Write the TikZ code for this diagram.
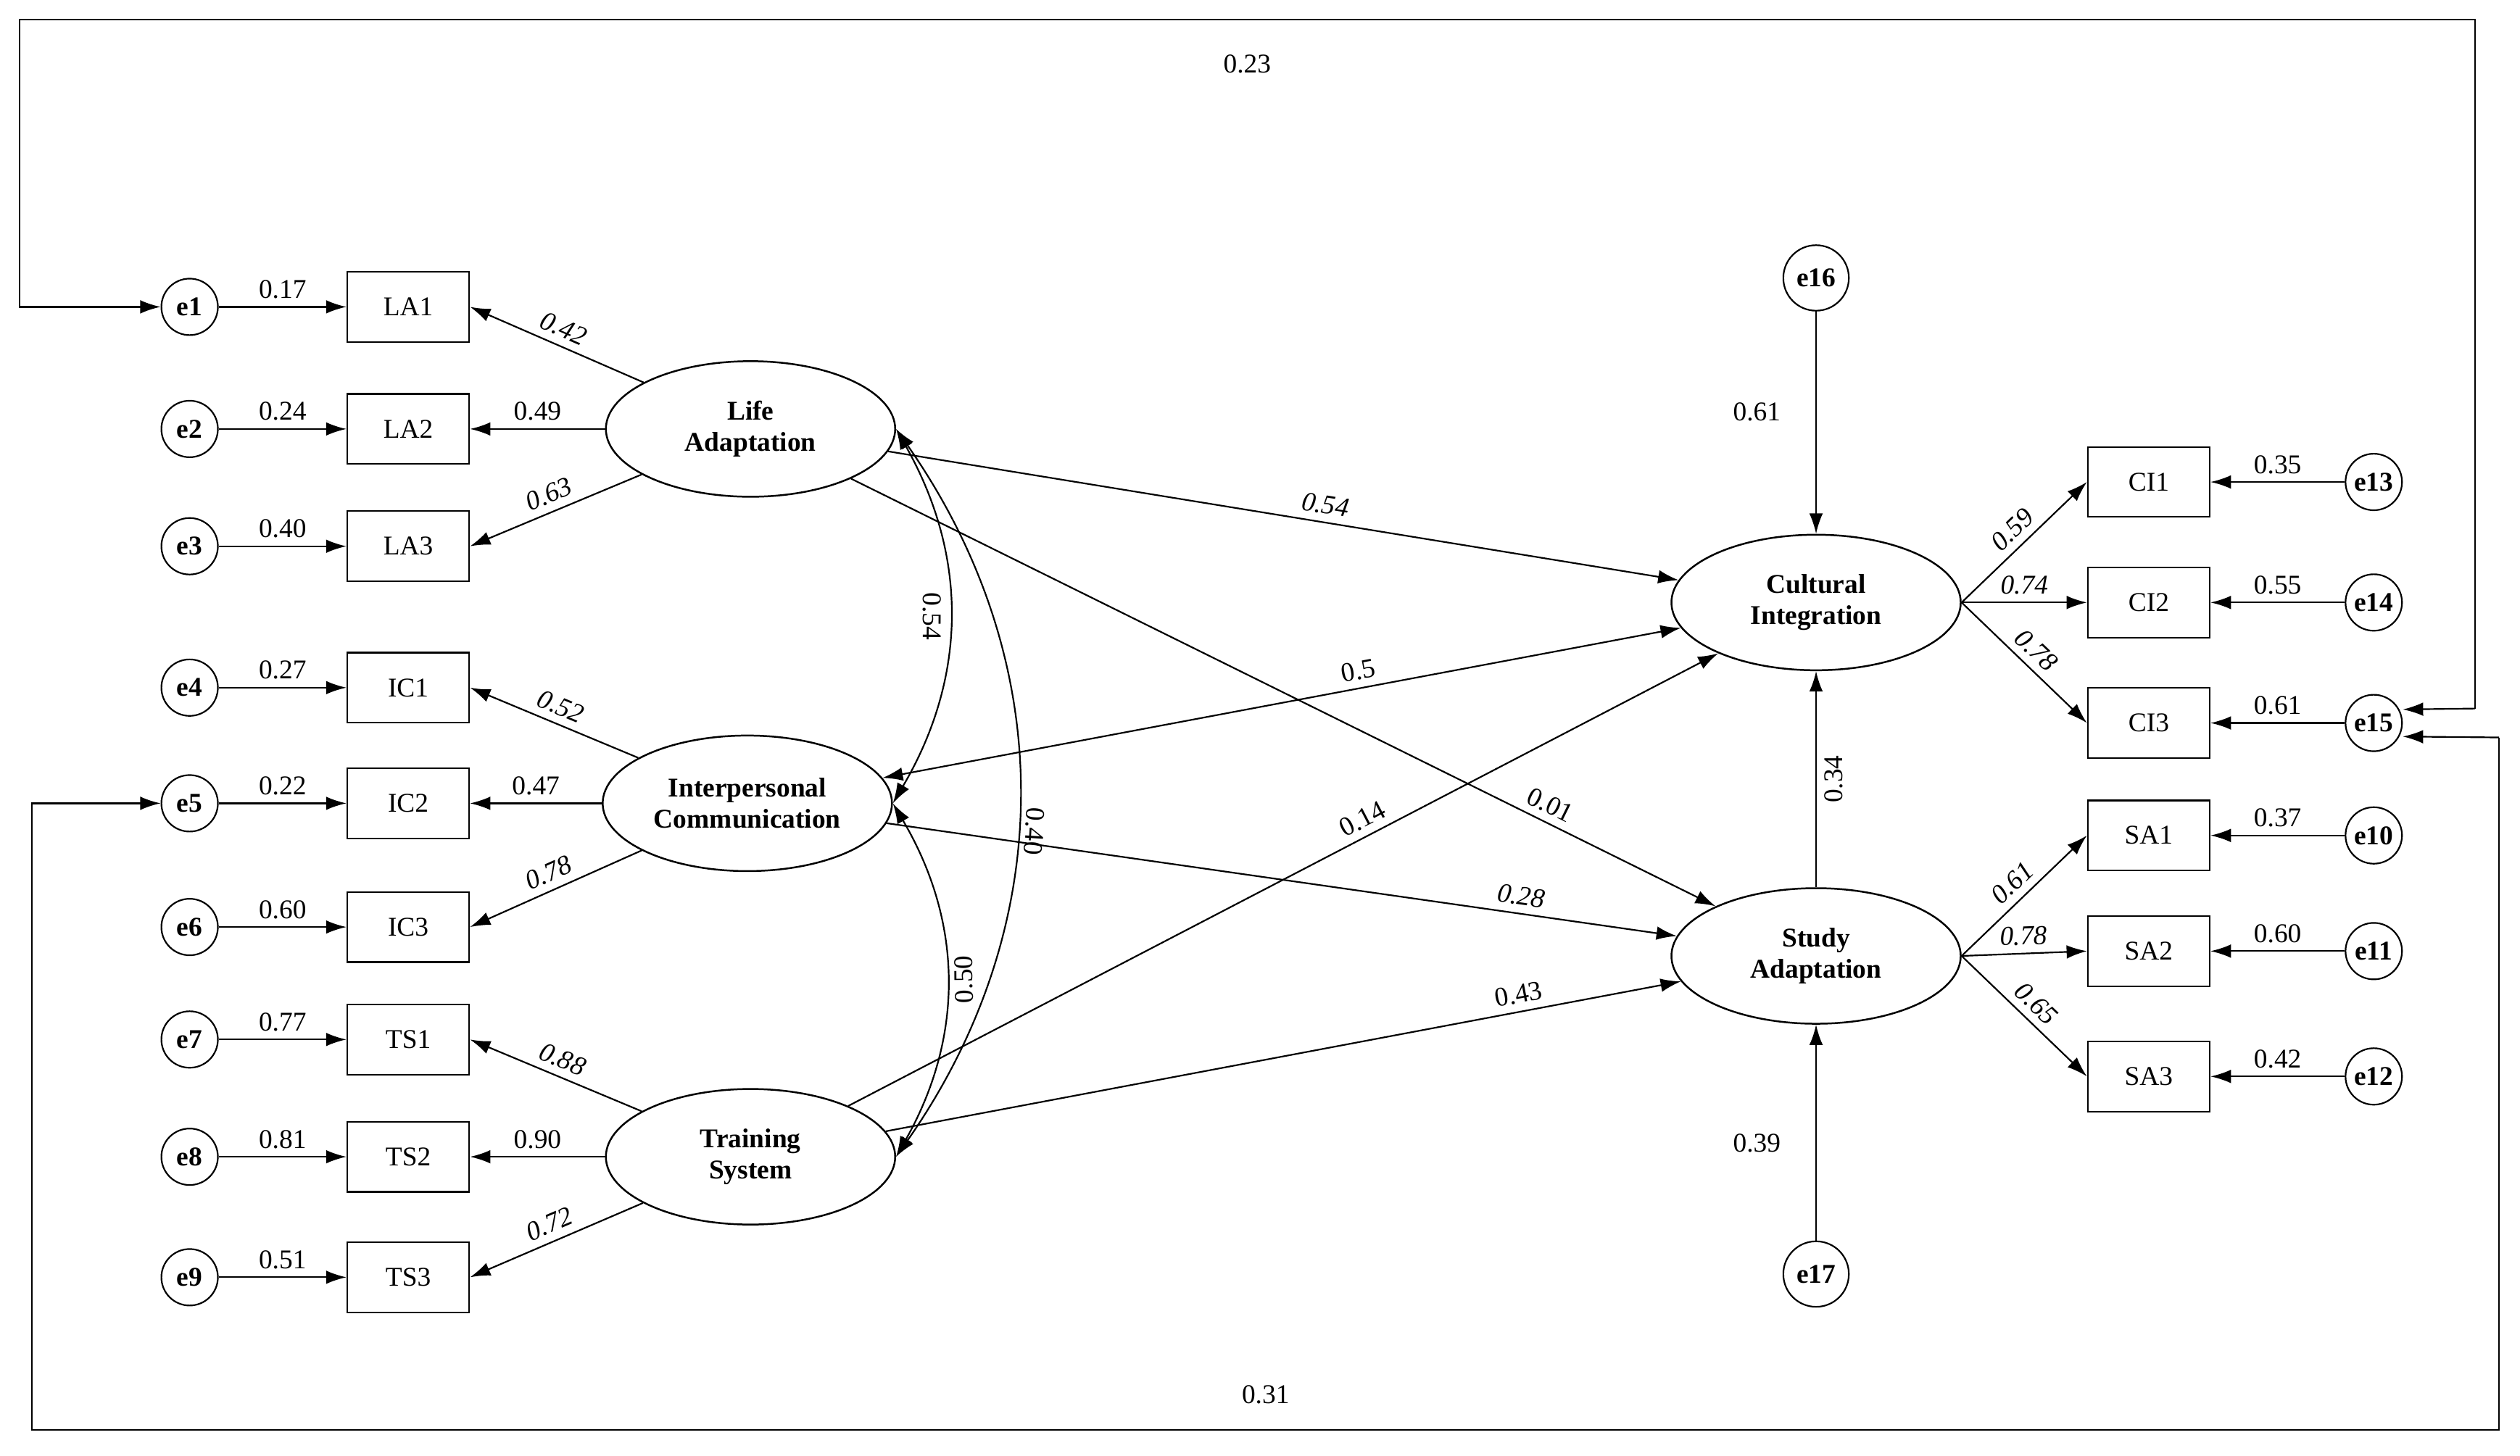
\documentclass[tikz,border=0pt]{standalone}
\usepackage{fontspec}
\setmainfont{Liberation Serif}
\usetikzlibrary{positioning,arrows.meta,shapes.geometric}
\tikzset{
  err/.style={draw,circle,minimum size=25pt,inner sep=0pt,font=\bfseries\large},
  obs/.style={draw,rectangle,minimum width=54pt,minimum height=31pt,font=\large},
  lat/.style={draw,ellipse,thick,minimum width=128pt,minimum height=60pt,inner sep=1pt,align=center,font=\bfseries\large},
  lbl/.style={font=\large},
  >={Latex[length=9pt,width=6pt]}
}
\begin{document}
\begin{tikzpicture}[x=0.025cm,y=-0.025cm,line width=0.7pt]
\useasboundingbox (0,0) rectangle (1568,906);

% left indicators
\foreach \i/\n/\y/\w in {1/LA1/191/0.17,2/LA2/267/0.24,3/LA3/340/0.40,4/IC1/428/0.27,5/IC2/500/0.22,6/IC3/577/0.60,7/TS1/647/0.77,8/TS2/720/0.81,9/TS3/795/0.51}{
  \node[err] (e\i) at (118,\y) {e\i};
  \node[obs] (\n) at (254,\y) {\n};
  \draw[->] (e\i) -- node[lbl,above]{\w} (\n);
}

% latent variables
\node[lat] (LA) at (467,267) {Life\\Adaptation};
\node[lat] (IC) at (465,500) {Interpersonal\\Communication};
\node[lat] (TS) at (467,720) {Training\\System};
\node[lat] (CI) at (1130,375) {Cultural\\Integration};
\node[lat] (SA) at (1130,595) {Study\\Adaptation};

% loadings
\draw[->] (LA) -- node[lbl,sloped,above]{\itshape 0.42} (LA1.east);
\draw[->] (LA) -- node[lbl,above]{0.49} (LA2);
\draw[->] (LA) -- node[lbl,sloped,above]{\itshape 0.63} (LA3.east);
\draw[->] (IC) -- node[lbl,sloped,above]{\itshape 0.52} (IC1.east);
\draw[->] (IC) -- node[lbl,above]{0.47} (IC2);
\draw[->] (IC) -- node[lbl,sloped,above]{\itshape 0.78} (IC3.east);
\draw[->] (TS) -- node[lbl,sloped,above]{\itshape 0.88} (TS1.east);
\draw[->] (TS) -- node[lbl,above]{0.90} (TS2);
\draw[->] (TS) -- node[lbl,sloped,above]{\itshape 0.72} (TS3.east);

% right indicators
\foreach \i/\n/\y/\w/\a in {13/CI1/300/0.35/0.59,14/CI2/375/0.55/0.74,15/CI3/450/0.61/0.78}{
  \node[err] (e\i) at (1477,\y) {e\i};
  \node[obs] (\n) at (1337,\y) {\n};
  \draw[->] (e\i) -- node[lbl,above]{\w} (\n);
  \draw[->] (CI.east) -- node[lbl,sloped,above,pos=0.5]{\itshape \a} (\n.west);
}
\foreach \i/\n/\y/\w/\a in {10/SA1/520/0.37/0.61,11/SA2/592/0.60/0.78,12/SA3/670/0.42/0.65}{
  \node[err] (e\i) at (1477,\y) {e\i};
  \node[obs] (\n) at (1337,\y) {\n};
  \draw[->] (e\i) -- node[lbl,above]{\w} (\n);
  \draw[->] (SA.east) -- node[lbl,sloped,above,pos=0.5]{\itshape \a} (\n.west);
}

% disturbances
\node[err,minimum size=29pt] (e16) at (1130,173) {e16};
\node[err,minimum size=29pt] (e17) at (1130,793) {e17};
\draw[->] (e16) -- node[lbl,left=12pt,pos=0.45]{0.61} (CI);
\draw[->] (e17) -- node[lbl,left=12pt,pos=0.45]{0.39} (SA);

% structural paths
\draw[->] (LA) -- node[lbl,sloped,above,pos=0.55]{\itshape 0.54} (CI);
\draw[->] (LA) -- node[lbl,sloped,above,pos=0.8]{0.01} (SA);
\draw[<->] (IC) -- node[lbl,sloped,above,pos=0.6]{0.5} (CI);
\draw[->] (IC) -- node[lbl,sloped,above,pos=0.8]{\itshape 0.28} (SA);
\draw[->] (TS) -- node[lbl,sloped,above,pos=0.6]{0.14} (CI);
\draw[->] (TS) -- node[lbl,sloped,above,pos=0.8]{0.43} (SA);
\draw[->] (SA) -- node[lbl,sloped,below]{0.34} (CI);

% covariances
\draw[<->] (LA.east) to[bend left=30] node[lbl,sloped,below,rotate=180]{0.54} (IC.east);
\draw[<->] (IC.east) to[bend left=30] node[lbl,sloped,below,rotate=180]{0.50} (TS.east);
\draw[<->] (LA.east) to[bend left=35] node[lbl,sloped,above,pos=0.55,rotate=180]{0.40} (TS.east);

% feedback loops
\coordinate (t1) at (1540,441);
\coordinate (t2) at (1540,12);
\coordinate (t3) at (12,12);
\coordinate (t4) at (12,191);
\draw[->] (t1) -- (t2) -- node[lbl,below=12pt]{0.23} (t3) -- (t4) -- (e1);
\draw[->] (t1) -- ([yshift=6]e15.east);
\coordinate (b1) at (20,500);
\coordinate (b2) at (20,890);
\coordinate (b3) at (1555,890);
\coordinate (b4) at (1555,459);
\draw[->] (b4) -- (b3) -- node[lbl,above=8pt]{0.31} (b2) -- (b1) -- (e5);
\draw[->] (b4) -- ([yshift=-6]e15.east);
\end{tikzpicture}
\end{document}
